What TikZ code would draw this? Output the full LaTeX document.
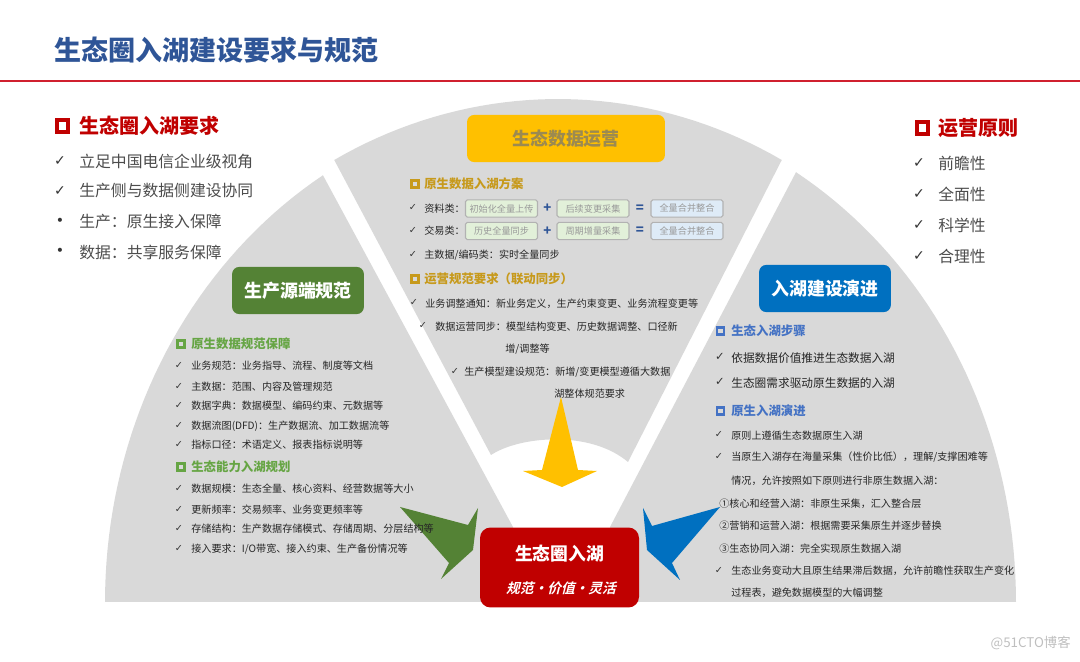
\documentclass[tikz,border=0pt]{standalone}
\usepackage{fontspec}
\usepackage{xcolor}
\setmainfont{Noto Sans CJK SC}
\newfontfamily\checkfont{DejaVu Sans}
\newfontfamily\slantfont[UprightFont=* Bold,FakeSlant=0.25]{Noto Sans CJK SC}
\definecolor{titleblue}{HTML}{2F5597}
\definecolor{linered}{HTML}{D0202F}
\definecolor{hubred}{HTML}{C00000}
\definecolor{sectorgray}{HTML}{D9D9D9}
\definecolor{opsyellow}{HTML}{FFC000}
\definecolor{opstext}{HTML}{9C8A50}
\definecolor{opshead}{HTML}{C79A1C}
\definecolor{srcgreen}{HTML}{548235}
\definecolor{srchead}{HTML}{66A544}
\definecolor{evoblue}{HTML}{0070C0}
\definecolor{evohead}{HTML}{4472C4}
\definecolor{stepgreen}{HTML}{E2F0D9}
\definecolor{stepblue}{HTML}{DEEBF7}
\tikzset{
	sector/.style={fill=sectorgray, draw=none},
	txt/.style={anchor=west, inner sep=0, text=#1},
	txt/.default=black!85,
	bigtxt/.style={txt=black!70, font=\fontsize{9pt}{11pt}\selectfont},
	smalltxt/.style={txt, font=\fontsize{5.75pt}{7pt}\selectfont},
	midtxt/.style={txt, font=\fontsize{6.65pt}{8pt}\selectfont},
	sechead/.style={txt=#1, font=\fontsize{7.05pt}{9pt}\selectfont\bfseries},
	bighead/.style={txt=hubred, font=\fontsize{11.4pt}{13pt}\selectfont\bfseries},
	secbox/.style={draw=#1, line width=1.2pt, minimum size=4pt, inner sep=0},
	bigbox/.style={draw=hubred, line width=2.2pt, minimum size=6.5pt, inner sep=0},
	tick/.style={inner sep=0, text=black!80, font=\checkfont\fontsize{5.5pt}{7pt}\selectfont},
	bigtick/.style={inner sep=0, text=black!80, font=\checkfont\fontsize{8pt}{10pt}\selectfont},
	titlebox/.style={fill=#1, rounded corners=4pt, minimum width=75pt, minimum height=26.8pt, inner sep=0, font=\fontsize{10.2pt}{12pt}\selectfont\bfseries},
	stepbox/.style={fill=#1, draw=black!30, line width=0.6pt, rounded corners=1pt, minimum width=41pt, minimum height=9.8pt, inner sep=0, text=black!40, font=\fontsize{5.2pt}{6pt}\selectfont},
	sign/.style={inner sep=0, text=titleblue, font=\fontsize{7.5pt}{9pt}\selectfont\bfseries}
}
\begin{document}
\begin{tikzpicture}[x=0.02cm,y=-0.02cm]
\useasboundingbox (0,0) rectangle (1080,662);

\node[txt=titleblue, font=\fontsize{15.4pt}{18pt}\selectfont\bfseries] (title) at (54,50) {生态圈入湖建设要求与规范};
\coordinate (ruleleft) at (0,81);
\coordinate (ruleright) at (1080,81);
\draw[linered, line width=1.7pt] (ruleleft) -- (ruleright);

\fill[sector] plot[domain=180:121.4,samples=40] ({560+455*cos(\x)},{602-500*sin(\x)}) -- (513,527) -- (513,602) -- cycle;
\fill[sector] plot[domain=0:58.9,samples=40] ({561+455*cos(\x)},{602-502*sin(\x)}) -- (610,527) -- (610,602) -- cycle;
\fill[sector] plot[domain=118.5:61.5,samples=40] ({558+469*cos(\x)},{602-503*sin(\x)}) -- (628,462) .. controls (590,430) and (520,436) .. (491,455) -- cycle;

\fill[opsyellow] (561,397) -- (542,470) -- (523,471) -- (562,487) -- (597,471) -- (578,470) -- cycle;
\fill[srcgreen] (400,507) -- (468,525) -- (478,508) -- (473,550) -- (441,579) -- (449,563) -- cycle;
\fill[evoblue] (720,507) -- (652,526) -- (643,508) -- (647,550) -- (680,580) -- (672,563) -- cycle;

\node[bigbox] (reqbox) at (62.5,126) {};
\node[bighead] (reqhead) at (79,126) {生态圈入湖要求};
\foreach \n/\y/\m/\t in {1/161/✓/立足中国电信企业级视角, 2/191/✓/生产侧与数据侧建设协同, 3/222/•/生产：原生接入保障, 4/252/•/数据：共享服务保障}{
	\node[bigtick] (reqmark\n) at (60,\y) {\m};
	\node[bigtxt] (reqitem\n) at (79,\y) {\t};
}

\node[bigbox] (rulebox) at (922.5,128) {};
\node[bighead] (rulehead) at (938,128) {运营原则};
\foreach \n/\y/\t in {1/163/前瞻性, 2/194/全面性, 3/225/科学性, 4/256/合理性}{
	\node[bigtick] (rulemark\n) at (919,\y) {✓};
	\node[bigtxt] (ruleitem\n) at (938,\y) {\t};
}

\node[titlebox=opsyellow, minimum width=112.6pt, text=opstext] (opstitle) at (566,138.5) {生态数据运营};
\node[secbox=opshead] (opsbox1) at (415,184) {};
\node[sechead=opshead] (opshead1) at (424,184) {原生数据入湖方案};
\node[tick] (opsmark1) at (413,207) {✓};
\node[smalltxt] (opsitem1) at (424,208.5) {资料类：};
\node[stepbox=stepgreen] (opsa1) at (501.5,208.5) {初始化全量上传};
\node[sign] (opsa2) at (547.5,208.5) {+};
\node[stepbox=stepgreen] (opsa3) at (593,208.5) {后续变更采集};
\node[sign] (opsa4) at (640,208.5) {=};
\node[stepbox=stepblue] (opsa5) at (687,208.5) {全量合并整合};
\node[tick] (opsmark2) at (413,230) {✓};
\node[smalltxt] (opsitem2) at (424,231) {交易类：};
\node[stepbox=stepgreen] (opsb1) at (501.5,231) {历史全量同步};
\node[sign] (opsb2) at (547.5,231) {+};
\node[stepbox=stepgreen] (opsb3) at (593,231) {周期增量采集};
\node[sign] (opsb4) at (640,231) {=};
\node[stepbox=stepblue] (opsb5) at (687,231) {全量合并整合};
\node[tick] (opsmark3) at (413,254) {✓};
\node[smalltxt] (opsitem3) at (424,255) {主数据/编码类：实时全量同步};
\node[secbox=opshead] (opsbox2) at (415,279) {};
\node[sechead=opshead] (opshead2) at (424,279) {运营规范要求（联动同步）};
\node[tick] (opsmark4) at (414,302) {✓};
\node[smalltxt] (opsitem4) at (425,303.5) {业务调整通知：新业务定义，生产约束变更、业务流程变更等};
\node[tick] (opsmark5) at (423,325) {✓};
\node[smalltxt] (opsitem5) at (435,327) {数据运营同步：模型结构变更、历史数据调整、口径新};
\node[smalltxt] (opsitem6) at (505,349) {增/调整等};
\node[tick] (opsmark7) at (455,371) {✓};
\node[smalltxt] (opsitem7) at (464,372) {生产模型建设规范：新增/变更模型遵循大数据};
\node[smalltxt] (opsitem8) at (554,394) {湖整体规范要求};

\node[titlebox=srcgreen, text=white] (srctitle) at (298,290.5) {生产源端规范};
\node[secbox=srchead] (srcbox1) at (181,344) {};
\node[sechead=srchead] (srchead1) at (191,344) {原生数据规范保障};
\foreach \n/\y/\t in {1/366/业务规范：业务指导、流程、制度等文档, 2/387/主数据：范围、内容及管理规范, 3/406/数据字典：数据模型、编码约束、元数据等, 4/426/数据流图(DFD)：生产数据流、加工数据流等, 5/445/指标口径：术语定义、报表指标说明等}{
	\node[tick] (srcmarka\n) at (179,\y-1) {✓};
	\node[smalltxt] (srcitema\n) at (191,\y) {\t};
}
\node[secbox=srchead] (srcbox2) at (181,467) {};
\node[sechead=srchead] (srchead2) at (191,467) {生态能力入湖规划};
\foreach \n/\y/\t in {1/489/数据规模：生态全量、核心资料、经营数据等大小, 2/510/更新频率：交易频率、业务变更频率等, 3/529/存储结构：生产数据存储模式、存储周期、分层结构等, 4/549/{接入要求：I/O带宽、接入约束、生产备份情况等}}{
	\node[tick] (srcmarkb\n) at (179,\y-1) {✓};
	\node[smalltxt] (srcitemb\n) at (191,\y) {\t};
}

\node[titlebox=evoblue, text=white] (evotitle) at (825,288.5) {入湖建设演进};
\node[secbox=evohead] (evobox1) at (720.5,331) {};
\node[sechead=evohead] (evohead1) at (731,331) {生态入湖步骤};
\foreach \n/\y/\t in {1/358/依据数据价值推进生态数据入湖, 2/383/生态圈需求驱动原生数据的入湖}{
	\node[tick, font=\checkfont\fontsize{6.5pt}{8pt}\selectfont] (evomarka\n) at (720,\y-1) {✓};
	\node[midtxt] (evoitema\n) at (731,\y) {\t};
}
\node[secbox=evohead] (evobox2) at (720.5,411) {};
\node[sechead=evohead] (evohead2) at (731,411) {原生入湖演进};
\node[tick] (evomarkb1) at (719,434) {✓};
\node[smalltxt] (evoitemb1) at (731,435.5) {原则上遵循生态数据原生入湖};
\node[tick] (evomarkb2) at (719,456) {✓};
\node[smalltxt] (evoitemb2) at (731,457.5) {当原生入湖存在海量采集（性价比低），理解/支撑困难等};
\node[smalltxt] (evoitemb3) at (731,481) {情况，允许按照如下原则进行非原生数据入湖：};
\node[smalltxt] (evoitemb4) at (719,503.5) {①核心和经营入湖：非原生采集，汇入整合层};
\node[smalltxt] (evoitemb5) at (719,526) {②营销和运营入湖：根据需要采集原生并逐步替换};
\node[smalltxt] (evoitemb6) at (719,548.5) {③生态协同入湖：完全实现原生数据入湖};
\node[tick] (evomarkb7) at (719,570) {✓};
\node[smalltxt] (evoitemb7) at (731,571) {生态业务变动大且原生结果滞后数据，允许前瞻性获取生产变化};
\node[smalltxt] (evoitemb8) at (731,593) {过程表，避免数据模型的大幅调整};

\node[fill=hubred, rounded corners=6pt, minimum width=90.5pt, minimum height=45.5pt, inner sep=0] (hub) at (559.5,567.5) {};
\node[inner sep=0, text=white, font=\fontsize{10.1pt}{12pt}\selectfont\bfseries] (hubtitle) at (559.5,554) {生态圈入湖};
\node[inner sep=0, text=white, font=\slantfont\fontsize{7.8pt}{10pt}\selectfont] (hubsub) at (561,588) {规范·价值·灵活};

\node[anchor=east, inner sep=0, text=black!25, font=\fontsize{7.6pt}{9pt}\selectfont] (stamp) at (1071,643) {@51CTO博客};
\end{tikzpicture}
\end{document}
